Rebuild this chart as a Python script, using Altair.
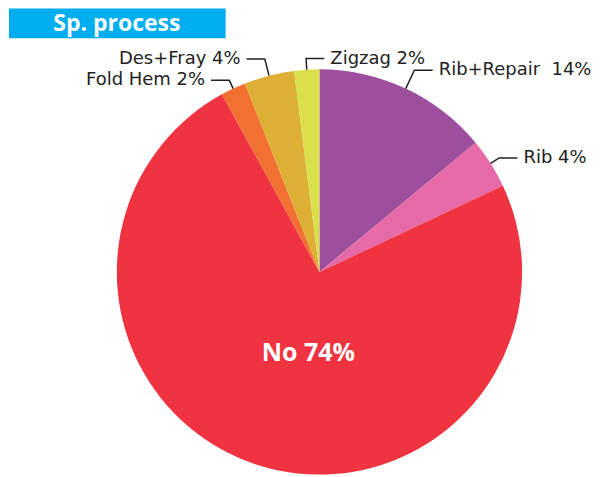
import altair as alt
import pandas as pd
import numpy as np

labels = ["Rib+Repair", "Rib", "No", "Fold Hem", "Des+Fray", "Zigzag"]
values = [14, 4, 74, 2, 4, 2]
label_texts = ["Rib+Repair\u00a0\u00a014%", "Rib 4%", "No 74%", "Fold Hem 2%", "Des+Fray 4%", "Zigzag 2%"]
colors = ["#9d4f9d", "#e66aa7", "#ef3340", "#f37033", "#ddb035", "#d9e04b"]
title_text = "Sp. process"

# label-layout styling: leader elbow distance (in pie radii) per label
elbow = {"Rib+Repair": 1.10, "Rib": 1.05, "Fold Hem": 1.045, "Des+Fray": 1.085, "Zigzag": 1.055}

FONT = "DejaVu Sans"
BFONT = "Open Sans"
W, H = 584, 461
R = 203
CX, CY = 312, 264
xdom = [-CX / R, (W - CX) / R]
ydom = [-(H - CY) / R, CY / R]

df = pd.DataFrame({"label": labels, "value": values, "text": label_texts,
                   "idx": list(range(len(labels)))})
df["cx"] = 0.0
df["cy"] = 0.0
vals = np.array(values, dtype=float)
mid = (np.cumsum(vals) - vals / 2) / vals.sum() * 2 * np.pi
df["mid"] = mid

# leader lines for outer labels
big = df["value"].idxmax()
rows, trows = [], []
for i, r in df.iterrows():
    if i == big:
        continue
    s, c = np.sin(r["mid"]), np.cos(r["mid"])
    side = 1 if s > -0.1 else -1
    e = elbow[r["label"]]
    ex, ey = e * s, e * c
    hx = ex + side * 0.09
    rows += [
        {"label": r["label"], "o": 0, "x": 1.0 * s, "y": 1.0 * c},
        {"label": r["label"], "o": 1, "x": ex, "y": ey},
        {"label": r["label"], "o": 2, "x": hx, "y": ey},
    ]
    trows.append({"text": r["text"], "x": hx + side * 0.03, "y": ey,
                  "side": "right" if side > 0 else "left"})
lines = pd.DataFrame(rows)
tdf = pd.DataFrame(trows)

inner = df.loc[[big]].copy()
inner["x"] = 0.40 * np.sin(inner["mid"])
inner["y"] = 0.40 * np.cos(inner["mid"])

xs = alt.Scale(domain=xdom, nice=False, zero=False)
ys = alt.Scale(domain=ydom, nice=False, zero=False)

arc = alt.Chart(df).mark_arc(outerRadius=R).encode(
    theta=alt.Theta("value:Q", stack=True),
    color=alt.Color("label:N", scale=alt.Scale(domain=labels, range=colors), legend=None),
    order=alt.Order("idx:Q"),
    x=alt.X("cx:Q", scale=xs, axis=None),
    y=alt.Y("cy:Q", scale=ys, axis=None),
)

lead = alt.Chart(lines).mark_line(color="#222222", strokeWidth=1.5).encode(
    x=alt.X("x:Q", scale=xs, axis=None),
    y=alt.Y("y:Q", scale=ys, axis=None),
    detail="label:N",
    order="o:Q",
)

txt_r = alt.Chart(tdf).transform_filter(alt.datum.side == "right").mark_text(
    align="left", baseline="middle", font=FONT, fontSize=18, color="#222222"
).encode(x=alt.X("x:Q", scale=xs, axis=None), y=alt.Y("y:Q", scale=ys, axis=None), text="text:N")

txt_l = alt.Chart(tdf).transform_filter(alt.datum.side == "left").mark_text(
    align="right", baseline="middle", font=FONT, fontSize=18, color="#222222"
).encode(x=alt.X("x:Q", scale=xs, axis=None), y=alt.Y("y:Q", scale=ys, axis=None), text="text:N")

txt_in = alt.Chart(inner).mark_text(
    align="center", baseline="middle", font=BFONT, fontSize=25, fontWeight="bold", color="white", dx=14, dy=4
).encode(x=alt.X("x:Q", scale=xs, axis=None), y=alt.Y("y:Q", scale=ys, axis=None), text="text:N")

tdata = pd.DataFrame({"t": [title_text]})
title_box = alt.Chart(tdata).mark_rect(color="#00aeef").encode(
    x=alt.value(1), x2=alt.value(218), y=alt.value(0), y2=alt.value(30)
)
title_txt = alt.Chart(tdata).mark_text(
    align="center", baseline="middle", font=BFONT, fontSize=23, fontWeight="bold", color="white"
).encode(x=alt.value(109), y=alt.value(16), text="t:N")

chart = alt.layer(arc, lead, txt_r, txt_l, txt_in, title_box, title_txt).properties(
    width=W, height=H, padding=0, background="white"
).configure_view(stroke=None)

chart.save("out.html", embed_options={"renderer": "svg", "actions": False})
